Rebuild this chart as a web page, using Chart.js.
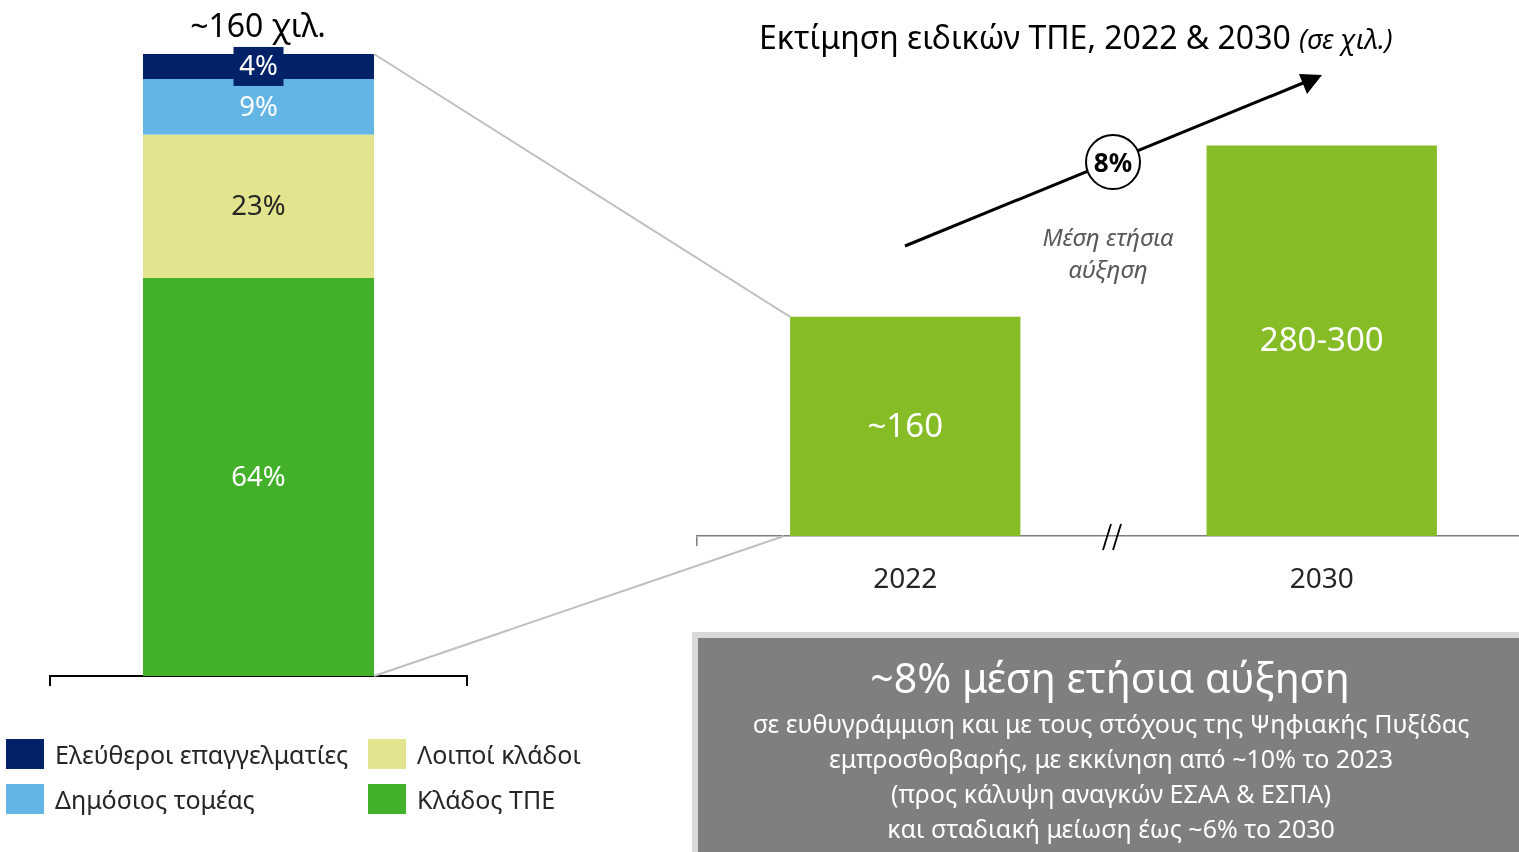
<!DOCTYPE html>
<html><head><meta charset="utf-8">
<script src="https://cdn.jsdelivr.net/npm/chart.js@4.4.0/dist/chart.umd.min.js"></script>
<style>
html,body{margin:0;padding:0;width:1519px;height:852px;overflow:hidden;background:#fff;font-family:"Noto Sans",sans-serif;}
canvas{position:absolute;left:0;top:0;}
#overlay{position:absolute;left:0;top:0;pointer-events:none;}
.t{position:absolute;white-space:nowrap;line-height:1.2;}
.c{transform:translate(-50%,-50%);}
.m{transform:translateY(-50%);}
#box{position:absolute;left:692px;top:632px;width:827px;height:240px;background:#D9D9D9;}
#boxIn{position:absolute;left:698px;top:638px;width:821px;height:234px;background:#7F7F7F;}
.sq{position:absolute;width:38px;height:30px;}
</style></head><body>
<canvas id="left" width="1519" height="852"></canvas>
<canvas id="right" width="1540" height="852"></canvas>
<div id="box"></div><div id="boxIn"></div>
<svg id="overlay" width="1519" height="852" xmlns="http://www.w3.org/2000/svg">
  <g id="links"></g>
  <line x1="905" y1="246" x2="1303" y2="83" stroke="#000" stroke-width="3"/>
  <polygon points="1322,75 1299,74 1307,94" fill="#000"/>
  <circle cx="1113" cy="162" r="27" fill="#fff" stroke="#000" stroke-width="2"/>
  <line x1="1103" y1="550" x2="1111" y2="524" stroke="#000" stroke-width="1.8"/>
  <line x1="1113" y1="550" x2="1121" y2="524" stroke="#000" stroke-width="1.8"/>
</svg>
<div class="t c" style="left:1113px;top:163px;font-size:26px;font-weight:bold;color:#000">8%</div>
<div class="t c" style="left:258px;top:25px;font-size:32px;color:#000">~160 χιλ.</div>
<div class="t m" style="left:759px;top:37px;font-size:32px;color:#000">Εκτίμηση ειδικών ΤΠΕ, 2022 &amp; 2030 <span style="font-style:italic;font-size:27px">(σε χιλ.)</span></div>
<div class="t c" style="left:1108px;top:237px;font-size:24px;font-style:italic;color:#595959">Μέση ετήσια</div>
<div class="t c" style="left:1108px;top:269px;font-size:24px;font-style:italic;color:#595959">αύξηση</div>
<div class="t c" style="left:1110px;top:678px;font-size:41px;color:#fff">~8% μέση ετήσια αύξηση</div>
<div class="t c" style="left:1111px;top:723px;font-size:25px;color:#fff">σε ευθυγράμμιση και με τους στόχους της Ψηφιακής Πυξίδας</div>
<div class="t c" style="left:1111px;top:758px;font-size:25px;color:#fff">εμπροσθοβαρής, με εκκίνηση από ~10% το 2023</div>
<div class="t c" style="left:1111px;top:793px;font-size:25px;color:#fff">(προς κάλυψη αναγκών ΕΣΑΑ &amp; ΕΣΠΑ)</div>
<div class="t c" style="left:1111px;top:828px;font-size:25px;color:#fff">και σταδιακή μείωση έως ~6% το 2030</div>
<div id="legend"></div>
<script>
// ---- data ----
const shareCategories = ['Κατανομή ειδικών ΤΠΕ 2022'];
const shareSeries = ['Κλάδος ΤΠΕ', 'Λοιποί κλάδοι', 'Δημόσιος τομέας', 'Ελεύθεροι επαγγελματίες'];
const shareValues = [64, 23, 9, 4];
const shareLabels = ['64%', '23%', '9%', '4%'];
const yearCategories = ['2022', '2030'];
const yearValues = [160, 285];
const yearValueLabels = ['~160', '280-300'];

// ---- styles ----
const shareColors = ['#43B02A', '#E3E48D', '#62B5E5', '#012169'];
const shareTextColors = ['#ffffff', '#262626', '#ffffff', '#ffffff'];
const yearColor = '#86BC25';
const FONT = '"Noto Sans", sans-serif';

Chart.defaults.font.family = FONT;

const leftLabels = {
  id: 'leftLabels',
  afterDatasetsDraw(chart) {
    const ctx = chart.ctx;
    ctx.save();
    ctx.textAlign = 'center';
    ctx.textBaseline = 'middle';
    ctx.font = '27.5px ' + FONT;
    chart.data.datasets.forEach((ds, di) => {
      chart.getDatasetMeta(di).data.forEach((bar) => {
        const p = bar.getProps(['x', 'y', 'base'], true);
        const cy = (p.y + p.base) / 2;
        if (di === shareValues.length - 1) {
          ctx.fillStyle = shareColors[di];
          ctx.fillRect(p.x - 25, cy - 19.5, 50, 39);
        }
        ctx.fillStyle = shareTextColors[di];
        ctx.fillText(shareLabels[di], p.x, cy + 1);
      });
    });
    ctx.restore();
  }
};

const rightLabels = {
  id: 'rightLabels',
  afterDatasetsDraw(chart) {
    const ctx = chart.ctx;
    ctx.save();
    ctx.textAlign = 'center';
    ctx.textBaseline = 'middle';
    ctx.font = '33px ' + FONT;
    ctx.fillStyle = '#ffffff';
    chart.getDatasetMeta(0).data.forEach((bar, i) => {
      const p = bar.getProps(['x', 'y', 'base'], true);
      ctx.fillText(yearValueLabels[i], p.x, (p.y + p.base) / 2 + 1);
    });
    ctx.restore();
  }
};

const leftChart = new Chart(document.getElementById('left'), {
  type: 'bar',
  data: {
    labels: shareCategories,
    datasets: shareSeries.map((name, i) => ({
      label: name,
      data: [shareValues[i]],
      backgroundColor: shareColors[i],
      borderWidth: 0,
      barPercentage: 0.554,
      categoryPercentage: 1
    }))
  },
  options: {
    responsive: false,
    animation: false,
    layout: { padding: { left: 50, right: 1052, top: 54, bottom: 0 } },
    plugins: { legend: { display: false }, tooltip: { enabled: false } },
    scales: {
      x: {
        stacked: true,
        offset: true,
        ticks: { display: false },
        grid: { offset: true, drawOnChartArea: false, drawTicks: true, tickLength: 10, color: '#000', lineWidth: 2 },
        border: { display: true, color: '#000', width: 2 },
        afterFit(s) { s.height = 852 - 676; }
      },
      y: { stacked: true, display: false, min: 0, max: 100 }
    }
  },
  plugins: [leftLabels]
});

const rightChart = new Chart(document.getElementById('right'), {
  type: 'bar',
  data: {
    labels: yearCategories,
    datasets: [{
      label: 'Ειδικοί ΤΠΕ (χιλ.)',
      data: yearValues,
      backgroundColor: yearColor,
      borderWidth: 0,
      barPercentage: 0.553,
      categoryPercentage: 1
    }]
  },
  options: {
    responsive: false,
    animation: false,
    layout: { padding: { left: 697, right: 10, top: 125, bottom: 0 } },
    plugins: { legend: { display: false }, tooltip: { enabled: false } },
    scales: {
      x: {
        offset: true,
        ticks: { color: '#262626', font: { size: 28, family: FONT }, padding: 17 },
        grid: {
          offset: true, drawOnChartArea: false, drawTicks: true, tickLength: 10,
          color: (c) => (c.index === 1 ? 'rgba(0,0,0,0)' : '#7F7F7F'),
          tickColor: (c) => (c.index === 1 ? 'rgba(0,0,0,0)' : '#7F7F7F'),
          lineWidth: 1.5
        },
        border: { display: true, color: '#7F7F7F', width: 1.5 },
        afterFit(s) { s.height = 852 - 536; }
      },
      y: { display: false, min: 0, max: 300 }
    }
  },
  plugins: [rightLabels]
});

// connector lines from the stacked bar to the 2022 bar
(function () {
  const lMeta = leftChart.getDatasetMeta(shareValues.length - 1).data[0].getProps(['x', 'y', 'width'], true);
  const lBase = leftChart.getDatasetMeta(0).data[0].getProps(['base'], true).base;
  const r = rightChart.getDatasetMeta(0).data[0].getProps(['x', 'y', 'base', 'width'], true);
  const lx = lMeta.x + lMeta.width / 2;
  const rx = r.x - r.width / 2;
  const g = document.getElementById('links');
  const mk = (x1, y1, x2, y2) => {
    const l = document.createElementNS('http://www.w3.org/2000/svg', 'line');
    l.setAttribute('x1', x1); l.setAttribute('y1', y1);
    l.setAttribute('x2', x2); l.setAttribute('y2', y2);
    l.setAttribute('stroke', '#BFBFBF'); l.setAttribute('stroke-width', '2');
    g.appendChild(l);
  };
  mk(lx, lMeta.y, rx, r.y);
  mk(lx, lBase, rx - 6, r.base);
})();

// legend (two columns)
(function () {
  const order = [3, 1, 2, 0];
  const pos = [[6, 739], [368, 739], [6, 784], [368, 784]];
  const lg = document.getElementById('legend');
  order.forEach((si, k) => {
    const [x, y] = pos[k];
    const sq = document.createElement('div');
    sq.className = 'sq';
    sq.style.left = x + 'px'; sq.style.top = y + 'px';
    sq.style.background = shareColors[si];
    lg.appendChild(sq);
    const tx = document.createElement('div');
    tx.className = 't m';
    tx.style.left = (x + 49) + 'px'; tx.style.top = (y + 15) + 'px';
    tx.style.fontSize = '25px'; tx.style.color = '#262626';
    tx.textContent = shareSeries[si];
    lg.appendChild(tx);
  });
})();
</script>
</body></html>
